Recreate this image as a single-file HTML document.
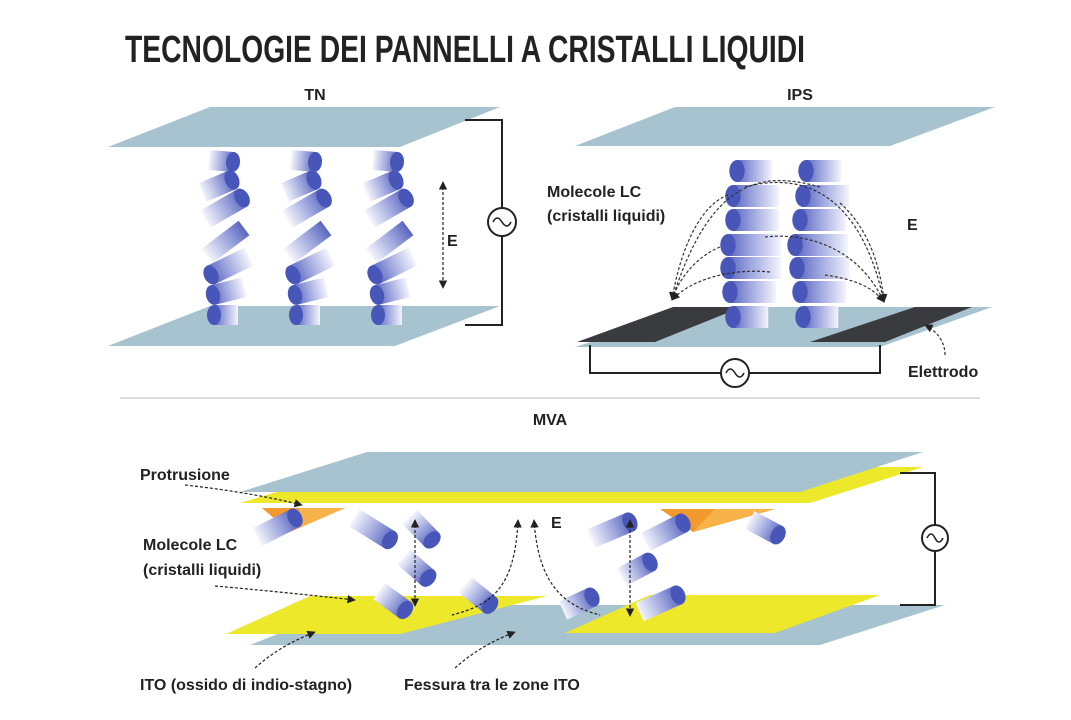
<!DOCTYPE html>
<html><head><meta charset="utf-8"><style>
html,body{margin:0;padding:0;background:#fff;}
svg{display:block;}
text{font-family:"Liberation Sans",sans-serif;fill:#222;}
.lb{font-size:16px;font-weight:bold;}
</style></head><body>
<svg width="1071" height="720" viewBox="0 0 1071 720" xmlns="http://www.w3.org/2000/svg">
<defs>
<linearGradient id="cg" x1="0" y1="0" x2="1" y2="0">
<stop offset="0" stop-color="#f4f5fc"/><stop offset="0.6" stop-color="#9aa2dc"/><stop offset="1" stop-color="#5a66c0"/>
</linearGradient>
<g id="cyl40"><rect x="-42" y="-10" width="42" height="20" fill="url(#cg)"/><ellipse cx="0" cy="0" rx="7" ry="10" fill="#4756b8"/></g>
<g id="cyl30"><rect x="-32" y="-10" width="32" height="20" fill="url(#cg)"/><ellipse cx="0" cy="0" rx="7" ry="10" fill="#4756b8"/></g>
<g id="cyl22"><rect x="-24" y="-10" width="24" height="20" fill="url(#cg)"/><ellipse cx="0" cy="0" rx="7" ry="10" fill="#4756b8"/></g>
<g id="cyl48"><rect x="-48" y="-10" width="48" height="20" fill="url(#cg)"/><ellipse cx="0" cy="0" rx="7" ry="10" fill="#4756b8"/></g>
<g id="bar"><rect x="-46" y="-9" width="46" height="18" fill="url(#cg)"/></g>
<marker id="ah" viewBox="0 0 10 10" refX="9" refY="5" markerWidth="7" markerHeight="7" orient="auto-start-reverse"><path d="M0,0 L10,5 L0,10 z" fill="#222"/></marker>
</defs>

<text x="125" y="62" font-size="38" font-weight="bold" textLength="680" lengthAdjust="spacingAndGlyphs" style="font-family:'Liberation Sans Narrow','Liberation Sans',sans-serif">TECNOLOGIE DEI PANNELLI A CRISTALLI LIQUIDI</text>
<text x="315" y="100" class="lb" text-anchor="middle">TN</text>
<text x="800" y="100" class="lb" text-anchor="middle">IPS</text>

<!-- TN -->
<polygon points="210,107 500,107 400,147 108,147" fill="#a8c3d0"/>
<polygon points="210,306 500,306 395,346 108,346" fill="#a8c3d0"/>
<polyline points="465,120 502,120 502,325 465,325" fill="none" stroke="#222" stroke-width="2"/>
<circle cx="502" cy="222" r="14" fill="#fff" stroke="#222" stroke-width="2"/>
<path d="M493,222 q4,-8 9,0 q5,8 9,0" fill="none" stroke="#222" stroke-width="1.6"/>
<line x1="443" y1="182" x2="443" y2="288" stroke="#222" stroke-width="1.2" stroke-dasharray="3,2" marker-start="url(#ah)" marker-end="url(#ah)"/>
<text x="447" y="246" class="lb">E</text>

<g id="tncol">
<use href="#cyl22" transform="translate(233,162) rotate(5)"/>
<use href="#cyl30" transform="translate(232,180) rotate(-23)"/>
<use href="#cyl40" transform="translate(242,198) rotate(-30)"/>
<use href="#bar" transform="translate(244,228) rotate(-37)"/>
<use href="#cyl40" transform="translate(211,275) rotate(154)"/>
<use href="#cyl30" transform="translate(213,295) rotate(166)"/>
<use href="#cyl22" transform="translate(214,315) rotate(180)"/>
</g>
<use href="#tncol" transform="translate(82,0)"/>
<use href="#tncol" transform="translate(164,0)"/>

<!-- IPS -->
<polygon points="675,107 995,107 890,146 575,146" fill="#a8c3d0"/>
<polygon points="700,307 992,307 880,347 575,347" fill="#a8c3d0"/>
<polygon points="673,307 742,307 655,342 577,342" fill="#3a3b3e"/>
<polygon points="915,307 972,307 885,342 810,342" fill="#3a3b3e"/>
<polyline points="590,345 590,373 880,373 880,345" fill="none" stroke="#222" stroke-width="2"/>
<circle cx="735" cy="373" r="14" fill="#fff" stroke="#222" stroke-width="2"/>
<path d="M726,373 q4,-8 9,0 q5,8 9,0" fill="none" stroke="#222" stroke-width="1.6"/>

<g id="ipscol">
<use href="#cyl30" transform="translate(737,171) rotate(180) scale(1.1)"/>
<use href="#cyl40" transform="translate(733,196) rotate(180) scale(1.1)"/>
<use href="#cyl40" transform="translate(733,220) rotate(180) scale(1.1)"/>
<use href="#cyl48" transform="translate(728,245) rotate(180) scale(1.1)"/>
<use href="#cyl48" transform="translate(728,268) rotate(180) scale(1.1)"/>
<use href="#cyl40" transform="translate(730,292) rotate(180) scale(1.1)"/>
<use href="#cyl30" transform="translate(733,317) rotate(180) scale(1.1)"/>
</g>
<use href="#cyl30" transform="translate(806,171) rotate(180) scale(1.1)"/>
<use href="#cyl40" transform="translate(803,196) rotate(180) scale(1.1)"/>
<use href="#cyl40" transform="translate(800,220) rotate(180) scale(1.1)"/>
<use href="#cyl48" transform="translate(795,245) rotate(180) scale(1.1)"/>
<use href="#cyl48" transform="translate(797,268) rotate(180) scale(1.1)"/>
<use href="#cyl40" transform="translate(800,292) rotate(180) scale(1.1)"/>
<use href="#cyl30" transform="translate(803,317) rotate(180) scale(1.1)"/>

<g fill="none" stroke="#333" stroke-width="1.2" stroke-dasharray="3,2">
<path d="M820,187 C760,170 710,180 672,300" marker-end="url(#ah)"/>
<path d="M728,195 C700,205 680,250 672,300" marker-end="url(#ah)"/>
<path d="M720,247 C700,255 680,275 672,300" marker-end="url(#ah)"/>
<path d="M770,272 C730,268 690,280 672,300" marker-end="url(#ah)"/>
<path d="M745,187 C800,172 860,190 884,302" marker-end="url(#ah)"/>
<path d="M840,203 C865,225 880,260 884,302" marker-end="url(#ah)"/>
<path d="M765,237 C810,232 860,250 884,302" marker-end="url(#ah)"/>
<path d="M825,275 C860,280 875,290 884,302" marker-end="url(#ah)"/>
<path d="M945,355 C945,340 935,330 925,325" marker-end="url(#ah)"/>
</g>
<text x="547" y="197" class="lb">Molecole LC</text>
<text x="547" y="221" class="lb">(cristalli liquidi)</text>
<text x="907" y="230" class="lb">E</text>
<text x="908" y="377" class="lb">Elettrodo</text>

<line x1="120" y1="398" x2="980" y2="398" stroke="#bbb" stroke-width="1"/>
<text x="550" y="425" class="lb" text-anchor="middle">MVA</text>

<!-- MVA -->
<polygon points="360,467 923,467 810,503 240,503" fill="#ede829"/>
<polygon points="367,452 923,452 800,492 240,492" fill="#a8c3d0"/>
<polygon points="262,508 345,508 290,532" fill="#f39a2e"/>
<polygon points="300,508 345,508 290,532" fill="#f7b24a"/>
<polygon points="660,509 775,509 693,532" fill="#f39a2e"/>
<polygon points="715,509 775,509 693,532" fill="#f7b24a"/>
<polygon points="350,605 945,605 820,645 250,645" fill="#a8c3d0"/>
<polygon points="310,596 547,596 400,634 226,634" fill="#ede829"/>
<polygon points="650,595 880,595 775,633 565,633" fill="#ede829"/>
<polyline points="900,473 935,473 935,605 900,605" fill="none" stroke="#222" stroke-width="2"/>
<circle cx="935" cy="538" r="13" fill="#fff" stroke="#222" stroke-width="2"/>
<path d="M927,538 q4,-8 8,0 q4,8 8,0" fill="none" stroke="#222" stroke-width="1.6"/>

<use href="#cyl40" transform="translate(295,518) rotate(-27)"/>
<use href="#cyl40" transform="translate(390,540) rotate(32)"/>
<use href="#cyl30" transform="translate(432,540) rotate(46)"/>
<use href="#cyl30" transform="translate(428,578) rotate(41)"/>
<use href="#cyl30" transform="translate(405,610) rotate(36)"/>
<use href="#cyl30" transform="translate(490,605) rotate(39)"/>
<use href="#cyl30" transform="translate(592,597) rotate(-25)"/>
<use href="#cyl40" transform="translate(630,522) rotate(-23)"/>
<use href="#cyl40" transform="translate(683,523) rotate(-27)"/>
<use href="#cyl30" transform="translate(778,535) rotate(28)"/>
<use href="#cyl30" transform="translate(650,562) rotate(-28)"/>
<use href="#cyl40" transform="translate(678,595) rotate(-24)"/>

<g fill="none" stroke="#222" stroke-width="1.2" stroke-dasharray="3,2">
<line x1="415" y1="520" x2="415" y2="606" marker-start="url(#ah)" marker-end="url(#ah)"/>
<line x1="630" y1="520" x2="630" y2="616" marker-start="url(#ah)" marker-end="url(#ah)"/>
<path d="M518,520 C515,590 490,605 452,615" marker-start="url(#ah)"/>
<path d="M534,520 C538,580 560,605 600,615" marker-start="url(#ah)"/>
<path d="M185,485 C230,490 270,497 302,505" marker-end="url(#ah)"/>
<path d="M215,586 C260,590 310,595 355,600" marker-end="url(#ah)"/>
<path d="M255,668 C275,650 295,640 315,632" marker-end="url(#ah)"/>
<path d="M455,668 C475,650 495,640 515,632" marker-end="url(#ah)"/>
</g>
<text x="140" y="480" class="lb">Protrusione</text>
<text x="143" y="550" class="lb">Molecole LC</text>
<text x="143" y="575" class="lb">(cristalli liquidi)</text>
<text x="551" y="528" class="lb">E</text>
<text x="140" y="690" class="lb">ITO (ossido di indio-stagno)</text>
<text x="404" y="690" class="lb">Fessura tra le zone ITO</text>
</svg>
</body></html>
